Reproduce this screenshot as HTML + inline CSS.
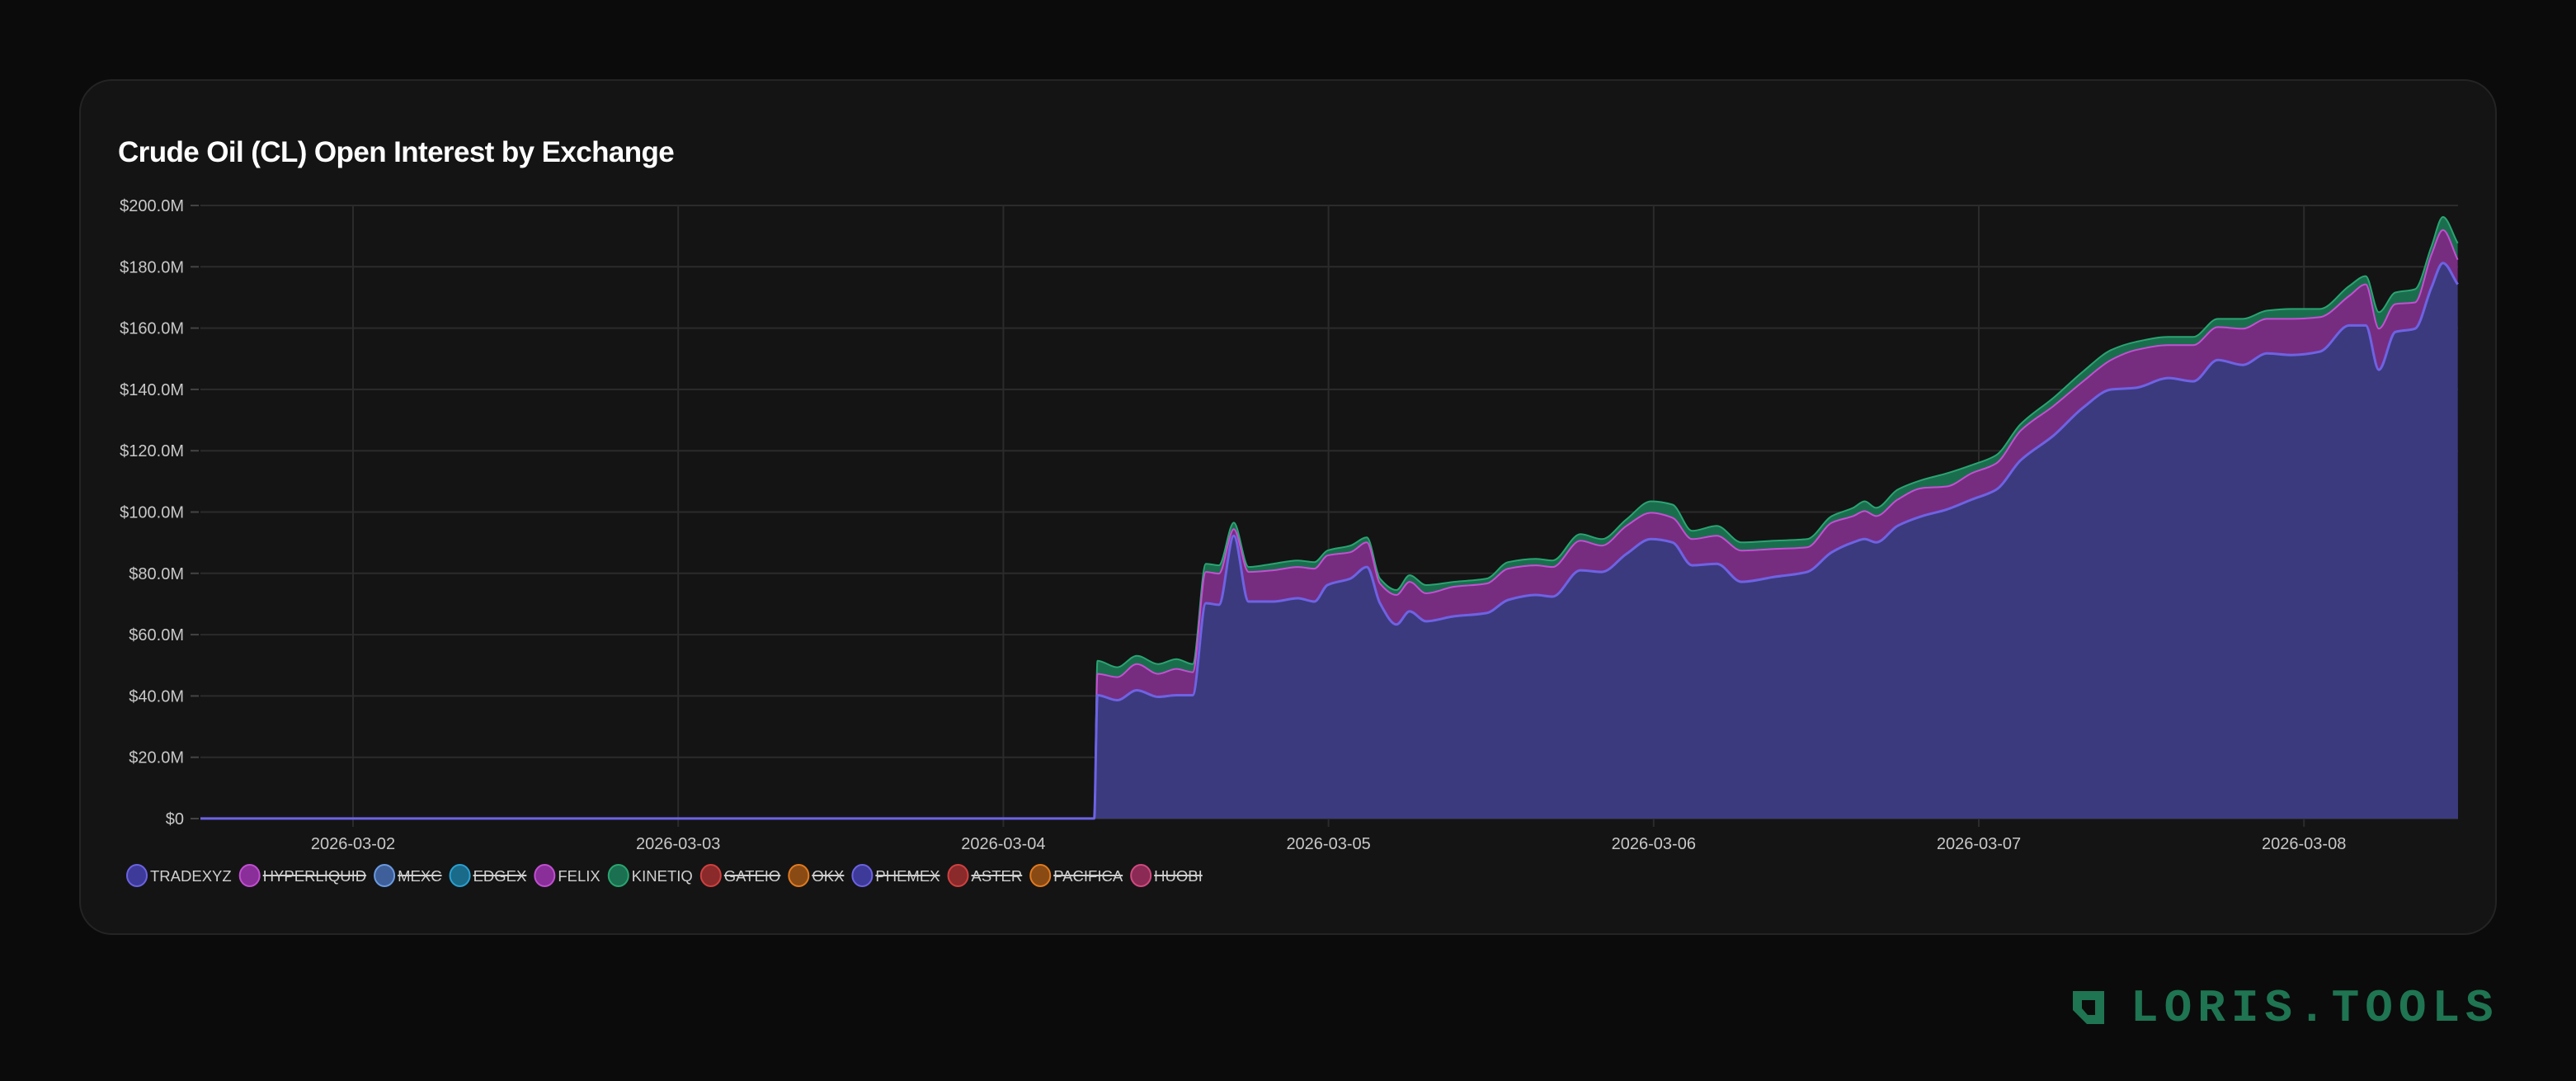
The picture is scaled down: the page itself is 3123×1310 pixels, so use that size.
<!DOCTYPE html>
<html><head><meta charset="utf-8">
<style>
html,body{margin:0;padding:0;background:#0b0b0b;width:3123px;height:1310px;overflow:hidden;font-family:"Liberation Sans",sans-serif;}
.card{position:absolute;left:96px;top:96px;width:2931px;height:1037px;background:#141414;border:2px solid #242424;border-radius:40px;box-sizing:border-box;}
.title{position:absolute;left:143px;top:165px;font-size:35px;font-weight:bold;color:#fff;letter-spacing:-0.6px;}
svg{position:absolute;left:0;top:0;}
.logo{position:absolute;left:2583px;top:1194px;font-family:"Liberation Mono",monospace;font-weight:bold;font-size:56px;color:#1f7452;letter-spacing:7px;line-height:56px;}
</style></head><body>
<div class="card"></div>
<div class="title">Crude Oil (CL) Open Interest by Exchange</div>
<svg id="s" width="3123" height="1310" viewBox="0 0 3123 1310"></svg>
<svg width="3123" height="1310" style="pointer-events:none">
<polygon points="2513,1201 2551,1201 2551,1241 2530,1241 2513,1224" fill="#1f7452"/>
<polygon points="2524,1212 2540,1212 2540,1230 2531,1230 2524,1222" fill="#0b0b0b"/>
</svg>
<div class="logo">LORIS.TOOLS</div>
<script>
const S=3123/1568;
const svg=document.getElementById('s');
let h='';
const L=243,R=2980,T=249,B=992;
for(let i=0;i<=10;i++){const y=T+(B-T)*i/10;h+=`<line x1="${L}" x2="${R}" y1="${y}" y2="${y}" stroke="#2b2b2b" stroke-width="2"/>`;
h+=`<line x1="${L-12}" x2="${L-2}" y1="${y}" y2="${y}" stroke="#444" stroke-width="2"/>`;
const v=200-20*i;const lab=v===0?'$0':'$'+v.toFixed(1)+'M';
h+=`<text x="${L-20}" y="${y+7}" fill="#c8c8c8" font-size="20" text-anchor="end" font-family="Liberation Sans">${lab}</text>`;}
const days=['2026-03-02','2026-03-03','2026-03-04','2026-03-05','2026-03-06','2026-03-07','2026-03-08'];
days.forEach((d,i)=>{const x=428+i*394.2;h+=`<line x1="${x}" x2="${x}" y1="${T}" y2="${B+10}" stroke="#2b2b2b" stroke-width="2"/>`;
h+=`<text x="${x}" y="${B+37}" fill="#c8c8c8" font-size="20" text-anchor="middle" font-family="Liberation Sans">${d}</text>`;});
const D=[[122,498,498,498],[666,498,498,498],[668,423,410,402],[680,426,412,406],[692,420,404,399],[705,424,410,404],[716,423,407,401],[726,423,409,404],[734,367,348,343],[742,368,349,344],[751,326,322,318],[760,366,348,345],[775,366,347,343],[790,364,345,341],[800,366,346,342],[808,356,338,335],[822,352,336,332],[832,345,330,327],[840,367,355,352],[850,380,362,359],[858,372,354,350],[868,378,361,356],[885,375,357,354],[905,373,355,352],[918,365,346,342],[935,362,344,340],[945,363,345,341],[962,347,329,325],[975,348,332,328],[990,337,320,316],[1005,328,312,305],[1018,330,315,307],[1030,344,328,323],[1045,343,326,320],[1060,354,335,330],[1080,351,334,329],[1100,348,333,328],[1115,336,318,314],[1128,330,314,309],[1135,328,311,305],[1142,330,314,309],[1155,320,304,298],[1170,314,297,292],[1185,310,296,288],[1200,304,288,283],[1215,298,282,277],[1230,280,262,258],[1250,265,247,242],[1268,248,232,226],[1285,237,219,213],[1300,236,213,208],[1320,230,210,205],[1335,232,210,205],[1350,219,199,194],[1365,222,200,194],[1380,215,194,189],[1395,216,194,188],[1412,214,193,188],[1430,198,180,174],[1440,198,173,168],[1448,225,200,190],[1458,202,185,178],[1470,200,184,176],[1480,175,155,150],[1487,160,140,132],[1496,173,158,148]];
const P=D.map(r=>r.map(v=>v*S));
function pts(k){return P.map(r=>[r[0],r[k]]);}
function tang(p){const n=p.length,dx=[],m=[],t=[];
 for(let i=0;i<n-1;i++){dx[i]=p[i+1][0]-p[i][0];m[i]=(p[i+1][1]-p[i][1])/dx[i];}
 t[0]=m[0];t[n-1]=m[n-2];
 for(let i=1;i<n-1;i++){t[i]=(m[i-1]*m[i]<=0)?0:(dx[i-1]+dx[i])*3/((2*dx[i]+dx[i-1])/m[i-1]+(dx[i]+2*dx[i-1])/m[i]);}
 return [dx,t];}
function curve(p){const [dx,t]=tang(p);let d='';
 for(let i=0;i<p.length-1;i++){const h3=dx[i]/3,p1=p[i],p2=p[i+1];
  d+=` C${(p1[0]+h3).toFixed(1)},${(p1[1]+t[i]*h3).toFixed(1)} ${(p2[0]-h3).toFixed(1)},${(p2[1]-t[i+1]*h3).toFixed(1)} ${p2[0].toFixed(1)},${p2[1].toFixed(1)}`;}
 return d;}
function revCurve(p){const [dx,t]=tang(p);let d='';
 for(let i=p.length-2;i>=0;i--){const h3=dx[i]/3,p1=p[i],p2=p[i+1];
  d+=` C${(p2[0]-h3).toFixed(1)},${(p2[1]-t[i+1]*h3).toFixed(1)} ${(p1[0]+h3).toFixed(1)},${(p1[1]+t[i]*h3).toFixed(1)} ${p1[0].toFixed(1)},${p1[1].toFixed(1)}`;}
 return d;}
const b=pts(1),pu=pts(2),g=pts(3);
const st=p=>`M${p[0][0].toFixed(1)},${p[0][1].toFixed(1)}`;
const last=p=>`L${p[p.length-1][0].toFixed(1)},${p[p.length-1][1].toFixed(1)}`;
h+=`<path d="${st(g)}${curve(g)} ${last(pu)}${revCurve(pu)} Z" fill="#1a6e4e"/>`;
h+=`<path d="${st(pu)}${curve(pu)} ${last(b)}${revCurve(b)} Z" fill="#762d80"/>`;
h+=`<path d="${st(b)}${curve(b)} L${R},${B} L${L},${B} Z" fill="#3c3a7e"/>`;
h+=`<path d="${st(g)}${curve(g)}" fill="none" stroke="#2aa472" stroke-width="2"/>`;
h+=`<path d="${st(pu)}${curve(pu)}" fill="none" stroke="#c350d2" stroke-width="2"/>`;
h+=`<path d="${st(b)}${curve(b)}" fill="none" stroke="#6d63e4" stroke-width="3"/>`;
h+='<g id="lg"></g>';
svg.innerHTML=h;
const lg=[['TRADEXYZ','#3d3a9a','#6b63e0',0],['HYPERLIQUID','#8a2e9a','#c04fd0',1],['MEXC','#3f5f9a','#6a9ae0',1],['EDGEX','#1a6a8a','#2aa0d0',1],['FELIX','#8a2e9a','#c04fd0',0],['KINETIQ','#1a7050','#2aa470',0],['GATEIO','#8a2a2a','#d04040',1],['OKX','#8a4a14','#e07a20',1],['PHEMEX','#3d3a9a','#6b63e0',1],['ASTER','#8a2a2a','#d04040',1],['PACIFICA','#8a4a14','#e07a20',1],['HUOBI','#8a2a55','#d04a80',1]];
const NS='http://www.w3.org/2000/svg',G=document.getElementById('lg');
let cx=166;const cy=1061;
lg.forEach(([n,f,s,k])=>{
 const e=document.createElementNS(NS,'ellipse');e.setAttribute('cx',cx);e.setAttribute('cy',cy);e.setAttribute('rx',12);e.setAttribute('ry',13);e.setAttribute('fill',f);e.setAttribute('stroke',s);e.setAttribute('stroke-width',2);G.appendChild(e);
 const t=document.createElementNS(NS,'text');t.setAttribute('x',cx+16);t.setAttribute('y',cy+7);t.setAttribute('fill','#cfcfcf');t.setAttribute('font-size','18.5');t.setAttribute('font-family','Liberation Sans');t.textContent=n;G.appendChild(t);
 let w=t.getComputedTextLength();if(!w)w=n.length*11.5;
 if(k){const l=document.createElementNS(NS,'line');l.setAttribute('x1',cx+16);l.setAttribute('x2',cx+16+w);l.setAttribute('y1',cy);l.setAttribute('y2',cy);l.setAttribute('stroke','#cfcfcf');l.setAttribute('stroke-width',2);G.appendChild(l);}
 cx=cx+16+w+22;});
</script>
</body></html>
